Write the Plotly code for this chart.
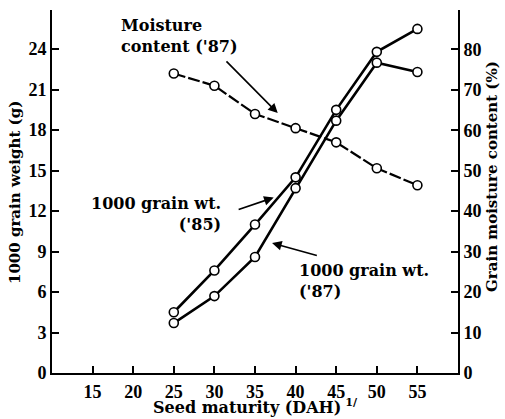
import plotly.graph_objects as go

dah = [25, 30, 35, 40, 45, 50, 55]
wt_85 = [4.5, 7.6, 11.0, 14.5, 19.5, 23.8, 25.5]
wt_87 = [3.7, 5.7, 8.6, 13.7, 18.7, 23.0, 22.3]
moisture_87 = [74, 71, 64, 60.5, 57, 50.6, 46.4]

x_ticks = [15, 20, 25, 30, 35, 40, 45, 50, 55]
y_ticks = [0, 3, 6, 9, 12, 15, 18, 21, 24]
y2_ticks = [0, 10, 20, 30, 40, 50, 60, 70, 80]

FONT = "Liberation Serif"
TFONT = "DejaVu Serif"
mk = dict(symbol="circle", size=9, color="white", line=dict(color="black", width=1.6))

fig = go.Figure()
fig.add_trace(go.Scatter(x=dah, y=wt_85, mode="lines+markers",
                         line=dict(color="black", width=2.6), marker=mk))
fig.add_trace(go.Scatter(x=dah, y=wt_87, mode="lines+markers",
                         line=dict(color="black", width=2.6), marker=mk))
fig.add_trace(go.Scatter(x=dah, y=moisture_87, mode="lines+markers", yaxis="y2",
                         line=dict(color="black", width=2.2, dash="12px,3px"), marker=mk))

tf = dict(family=FONT, size=18, color="black", weight="bold")
axcommon = dict(showgrid=False, zeroline=False, showline=True, linecolor="black",
                linewidth=2, ticks="inside", ticklen=7, tickwidth=2, tickcolor="black",
                tickfont=tf, automargin=False)

L, R, T, B = 52, 458, 10, 373
W, H = R - L, B - T

fig.update_layout(
    width=505, height=419,
    margin=dict(l=L, r=505 - R, t=T, b=419 - B),
    paper_bgcolor="white", plot_bgcolor="white",
    showlegend=False,
    font=dict(family=FONT, color="black"),
    xaxis=dict(range=[10, 60], tickvals=x_ticks, ticktext=[str(v) for v in x_ticks],
               ticklabelstandoff=1, **axcommon),
    yaxis=dict(range=[0, 26.9], tickvals=y_ticks, ticktext=[str(v) for v in y_ticks],
               ticklabelstandoff=0, **axcommon),
    yaxis2=dict(range=[0, 89.7], tickvals=y2_ticks, ticktext=[str(v) for v in y2_ticks],
                overlaying="y", side="right", ticklabelstandoff=0, **axcommon),
)

def px(xp):
    return (xp - L) / W

def py(yp):
    return (B - yp) / H

titlefont = dict(family=TFONT, size=15, color="black", weight="bold")
fig.add_annotation(x=px(255), y=py(406), xref="paper", yref="paper",
                   xanchor="center", yanchor="middle",
                   text="Seed maturity (DAH)<sup> 1/</sup>", showarrow=False,
                   font=dict(family=TFONT, size=16, color="black", weight="bold"))
fig.add_annotation(x=px(15), y=py(193), xref="paper", yref="paper",
                   xanchor="center", yanchor="middle",
                   text="1000 grain weight (g)", showarrow=False, textangle=-90,
                   font=titlefont)
fig.add_annotation(x=px(492), y=py(177), xref="paper", yref="paper",
                   xanchor="center", yanchor="middle",
                   text="Grain moisture content (%)", showarrow=False, textangle=-90,
                   font=titlefont)

afont = dict(family=TFONT, size=16, color="black", weight="bold")
fig.add_annotation(x=18.25, y=24.96, xref="x", yref="y", text="Moisture<br>content ('87)",
                   showarrow=False, xanchor="left", yanchor="middle", align="left", font=afont)
fig.add_annotation(x=31.06, y=11.78, xref="x", yref="y", text="1000 grain wt.<br>('85)",
                   showarrow=False, xanchor="right", yanchor="middle", align="right", font=afont)
fig.add_annotation(x=40.17, y=6.81, xref="x", yref="y", text="1000 grain wt.<br>('87)",
                   showarrow=False, xanchor="left", yanchor="middle", align="left", font=afont)

arrows = [((31.3, 23.2), (37.8, 19.26)),
          ((32.8, 12.07), (37.3, 13.0)),
          ((42.8, 8.67), (37.1, 9.63))]
for (tx, ty), (hx, hy) in arrows:
    fig.add_annotation(x=hx, y=hy, ax=tx, ay=ty, xref="x", yref="y", axref="x", ayref="y",
                       text="", showarrow=True, arrowhead=2, arrowsize=1.2, arrowwidth=1.6,
                       arrowcolor="black", standoff=0)

fig.write_html("out.html", config={"displayModeBar": False},
               post_script="document.body.style.margin='0';")
